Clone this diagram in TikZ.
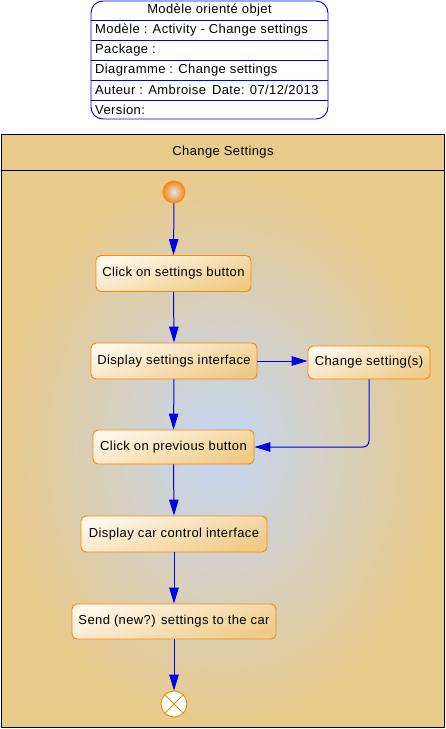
\documentclass[tikz,border=0pt]{standalone}
\usepackage{fontspec}
\setmainfont{Liberation Sans}[LetterSpace=3]
\usetikzlibrary{arrows.meta}
\definecolor{frametan}{HTML}{E8CA8B}
\definecolor{bodyblue}{HTML}{C4D6F4}
\definecolor{flowblue}{HTML}{0000E8}
\definecolor{actorange}{HTML}{F5880F}
\definecolor{acttop}{HTML}{FFF7EA}
\definecolor{actbot}{HTML}{EFCB86}
\definecolor{titleblue}{HTML}{0000E0}
\tikzset{
  act/.style={rectangle, rounded corners=5pt, draw=actorange, line width=0.9pt,
    top color=acttop, bottom color=actbot, shading angle=20, minimum height=36pt, inner sep=0pt},
  flow/.style={draw=flowblue, line width=1pt, -{Triangle[length=16pt,width=9.5pt]}},
  rowtext/.style={anchor=west, inner sep=0pt},
}
\begin{document}
\begin{tikzpicture}[x=1pt,y=-1pt, font=\fontsize{13}{15}\selectfont]
\useasboundingbox (0,0) rectangle (446,729);
% title box
\draw[titleblue, line width=0.9pt, fill=white, rounded corners=12pt] (91,1) rectangle (328,119);
\foreach \yy in {20,40,60,80,100} \draw[titleblue, line width=0.9pt] (91,\yy) -- (328,\yy);
\node[inner sep=0pt] (t0) at (209.5,10) {Modèle orienté objet};
\node[rowtext] (t1) at (95,30) {Modèle : Activity - Change settings};
\node[rowtext] (t2) at (95,50) {Package :};
\node[rowtext] (t3) at (95,70) {Diagramme : Change settings};
\node[rowtext] (t4) at (95,90) {Auteur : Ambroise\hspace{6pt}Date: 07/12/2013};
\node[rowtext] (t5) at (95,110) {Version:};
% frame
\fill[frametan] (1,134) rectangle (444,170);
\shade[inner color=bodyblue, outer color=frametan] (1,170) rectangle (444,727);
\draw[black, line width=1pt] (1,134) rectangle (444,727);
\draw[black, line width=1pt] (1,170) -- (444,170);
\node[inner sep=0pt] (hdr) at (223,152) {Change Settings};
% nodes
\node[circle, minimum size=22pt, inner sep=0pt, draw=actorange, line width=0.8pt, inner color=bodyblue!60!white, outer color=actorange] (start) at (174,192) {};
\node[act, minimum width=155pt] (n1) at (173.5,273.5) {Click on settings button};
\node[act, minimum width=166pt] (n2) at (174,361) {Display settings interface};
\node[act, minimum width=122pt, minimum height=33pt] (n3) at (369,362.5) {Change setting(s)};
\node[act, minimum width=161pt, minimum height=34pt] (n4) at (173.5,447) {Click on previous button};
\node[act, minimum width=186pt] (n5) at (174,534) {Display car control interface};
\node[act, minimum width=204pt, minimum height=35pt] (n6) at (174,621.5) {Send (new?) settings to the car};
\node[circle, minimum size=26pt, inner sep=0pt, draw=actorange, line width=0.9pt, fill=white] (end) at (174,704) {};
\draw[actorange, line width=0.9pt] (end.north west) -- (end.south east) (end.north east) -- (end.south west);
% flows
\draw[flow] (start.south) -- (n1.north);
\draw[flow] (n1.south) -- (n2.north);
\draw[flow] (n2.east) -- (n2.east -| n3.west);
\draw[flow] (n2.south) -- (n4.north);
\draw[flow, rounded corners=6pt] (n3.south) |- (n4.east);
\draw[flow] (n4.south) -- (n5.north);
\draw[flow] (n5.south) -- (n6.north);
\draw[flow] (n6.south) -- (end.north);
\end{tikzpicture}
\end{document}
